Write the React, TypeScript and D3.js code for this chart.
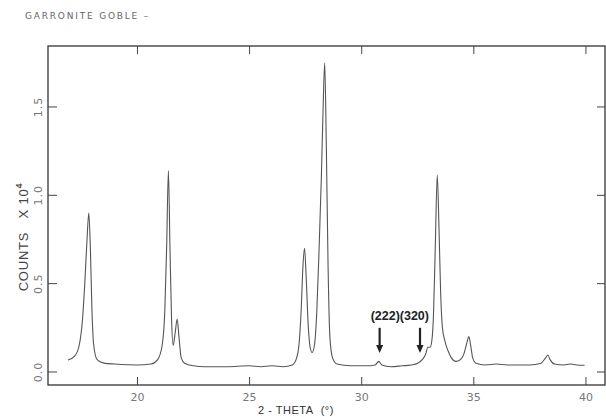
import React from "react";
import * as d3 from "d3";

const title = "GARRONITE GOBLE \u2013";
const xTicks = [20, 25, 30, 35, 40];
const yTicks = [0, 0.5, 1.0, 1.5];
const yTickLabels = ["0.0", "0.5", "1.0", "1.5"];

// 2-theta (degrees)
const twoTheta = [
  16.9, 17.2, 17.4, 17.55, 17.65, 17.75, 17.83, 17.9, 17.97, 18.05, 18.2, 18.5, 19.0, 20.0, 20.6,
  20.9, 21.1, 21.22, 21.3, 21.38, 21.45, 21.52, 21.59, 21.68, 21.77, 21.85, 21.95, 22.1, 22.5, 23.0,
  24.0, 25.0, 25.5, 26.0, 26.5, 26.9, 27.1, 27.2, 27.3, 27.38, 27.45, 27.52, 27.6, 27.7, 27.79,
  27.9, 28.0, 28.1, 28.2, 28.28, 28.35, 28.42, 28.5, 28.58, 28.7, 28.9, 29.5, 30.2, 30.6, 30.76,
  30.9, 31.3, 31.8, 32.2, 32.5, 32.7, 32.85, 32.95, 33.05, 33.13, 33.2, 33.28, 33.37, 33.45, 33.52, 33.6,
  33.7, 33.85, 34.0, 34.2, 34.4, 34.55, 34.7, 34.78, 34.86, 34.95, 35.1, 35.5, 36.0, 36.5, 37.0,
  37.5, 38.0, 38.2, 38.3, 38.4, 38.6, 39.0, 39.3, 39.6, 39.94,
];
// counts x 10^4
const counts = [
  0.068, 0.09, 0.15, 0.3, 0.5, 0.75, 0.9, 0.7, 0.35, 0.15, 0.07, 0.05, 0.045, 0.04, 0.045,
  0.07, 0.15, 0.35, 0.7, 1.14, 0.7, 0.3, 0.15, 0.22, 0.3, 0.2, 0.08, 0.05, 0.035, 0.03,
  0.03, 0.035, 0.03, 0.035, 0.03, 0.04, 0.08, 0.15, 0.35, 0.6, 0.7, 0.55, 0.3, 0.14, 0.11,
  0.16, 0.35, 0.7, 1.1, 1.5, 1.75, 1.3, 0.6, 0.2, 0.08, 0.045, 0.035, 0.035, 0.04, 0.06,
  0.04, 0.03, 0.035, 0.04, 0.05, 0.07, 0.1, 0.14, 0.14, 0.18, 0.32, 0.7, 1.115, 0.8, 0.45, 0.25,
  0.18, 0.12, 0.08, 0.06, 0.07, 0.1, 0.17, 0.2, 0.15, 0.08, 0.05, 0.04, 0.045, 0.04, 0.04,
  0.04, 0.05, 0.08, 0.096, 0.07, 0.045, 0.04, 0.045, 0.04, 0.038,
];

const annotationText = "(222)(320)";
const arrowPositions = [30.8, 32.6];

const W = 606;
const H = 417;
const left = 48;
const right = 605;
const top = 46;
const bottom = 385;

export default function App() {
  const x = d3.scaleLinear().domain([16.01, 40.85]).range([left, right]);
  const y = d3.scaleLinear().domain([-0.0736, 1.845]).range([bottom, top]);
  const pts = twoTheta.map((t, i) => [t, counts[i]] as [number, number]);
  const line = d3
    .line<[number, number]>()
    .x((d) => x(d[0]))
    .y((d) => y(d[1]))
    .curve(d3.curveMonotoneX);
  const path = line(pts) || "";
  const tickColor = "#444";
  const labelColor = "#777";
  const arrowTop = y(0.25);
  const arrowTip = y(0.107);

  return (
    <svg
      width={W}
      height={H}
      style={{ position: "absolute", left: 0, top: 0, background: "#fff" }}
    >
      <text
        x={25}
        y={19}
        fontFamily="DejaVu Sans, sans-serif"
        fontSize={9}
        letterSpacing={1.8}
        fill="#666"
      >
        {title}
      </text>

      {/* frame */}
      <rect
        x={left}
        y={top}
        width={right - left}
        height={bottom - top}
        fill="none"
        stroke="#333"
        strokeWidth={1.3}
      />

      {/* x ticks */}
      {xTicks.map((t) => (
        <g key={"x" + t}>
          <line x1={x(t)} x2={x(t)} y1={bottom} y2={bottom - 8} stroke={tickColor} strokeWidth={1} />
          <line x1={x(t)} x2={x(t)} y1={top} y2={top + 8} stroke={tickColor} strokeWidth={1} />
          <text
            x={x(t)}
            y={bottom + 16}
            textAnchor="middle"
            fontFamily="DejaVu Sans, sans-serif"
            fontSize={11}
            fill={labelColor}
          >
            {t}
          </text>
        </g>
      ))}

      {/* y ticks */}
      {yTicks.map((t, i) => (
        <g key={"y" + t}>
          <line x1={left} x2={left + 9} y1={y(t)} y2={y(t)} stroke={tickColor} strokeWidth={1} />
          <line x1={right} x2={right - 8} y1={y(t)} y2={y(t)} stroke={tickColor} strokeWidth={1} />
          <text
            transform={`translate(${left - 6},${y(t)}) rotate(-90)`}
            textAnchor="middle"
            fontFamily="DejaVu Sans, sans-serif"
            fontSize={11}
            fill={labelColor}
            letterSpacing={1}
          >
            {yTickLabels[i]}
          </text>
        </g>
      ))}

      {/* axis titles */}
      <text
        transform={`translate(28,237) rotate(-90)`}
        textAnchor="middle"
        fontFamily="Liberation Sans, Arial, sans-serif"
        fontSize={13}
        fill="#444"
        letterSpacing={0.8}
      >
        COUNTS{"\u00a0\u00a0\u00a0"}X 10
        <tspan dy={-6} fontSize={9} fontWeight="bold">
          4
        </tspan>
      </text>
      <text
        x={296}
        y={414}
        textAnchor="middle"
        fontFamily="Liberation Sans, Arial, sans-serif"
        fontSize={11}
        fill="#333"
        letterSpacing={0.5}
      >
        2 - THETA{"\u00a0\u00a0"}(°)
      </text>

      {/* pattern */}
      <path d={path} fill="none" stroke="#555" strokeWidth={1.1} />

      {/* annotation */}
      <text
        x={(x(arrowPositions[0]) + x(arrowPositions[1])) / 2}
        y={320}
        textAnchor="middle"
        fontFamily="Liberation Sans, Arial, sans-serif"
        fontSize={12.5}
        fontWeight="bold"
        fill="#222"
      >
        {annotationText}
      </text>
      {arrowPositions.map((p) => (
        <g key={"a" + p}>
          <line x1={x(p)} x2={x(p)} y1={arrowTop} y2={arrowTip - 6} stroke="#222" strokeWidth={2.2} />
          <path
            d={`M${x(p) - 3.5},${arrowTip - 8} L${x(p) + 3.5},${arrowTip - 8} L${x(p)},${arrowTip} Z`}
            fill="#222"
          />
        </g>
      ))}
    </svg>
  );
}
